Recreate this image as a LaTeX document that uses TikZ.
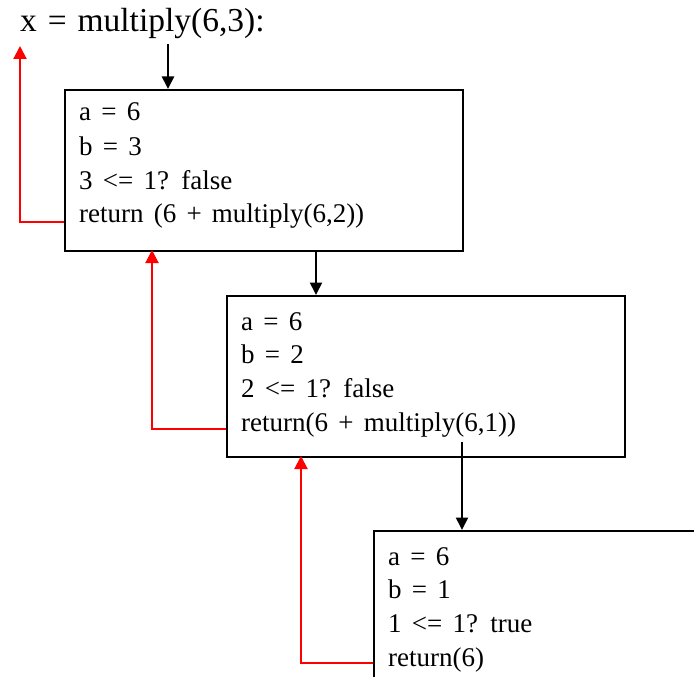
\documentclass[tikz,border=0pt]{standalone}
\usepackage{fontspec}
\setmainfont{Liberation Serif}
\usetikzlibrary{arrows.meta}
\newcommand\myboxfont{\fontsize{27}{32}\selectfont\spaceskip 10.2pt\relax}
\newcommand\mytitlefont{\fontsize{33.5}{38}\selectfont\spaceskip 10.9pt\relax}
\begin{document}
\begin{tikzpicture}[x=1pt,y=-1pt,
  box/.style={draw=black,line width=2pt,minimum width=398pt,minimum height=161pt,anchor=north west,inner sep=0pt},
  boxtxt/.style={anchor=base west,inner sep=0pt,font=\myboxfont},
  blk/.style={draw=black,line width=2pt,-{Triangle[length=12.5pt,width=12pt]}},
  ret/.style={draw=red,line width=2pt,-{Triangle[length=13pt,width=13pt]},shorten >=-2pt}]
\clip (0,0) rectangle (694,677);
\useasboundingbox (0,0) rectangle (694,677);
\node[anchor=base west,inner sep=0pt,font=\mytitlefont] (title) at (20,32) {x = multiply(6,3):};
% boxes
\node[box] (box1) at (64,89) {};
\node[box] (box2) at (226,295) {};
\node[box,minimum width=400pt,minimum height=200pt] (box3) at (373,530) {};
% box 1 text
\node[boxtxt] (l11) at (79,121) {a = 6};
\node[boxtxt] (l12) at (79,155) {b = 3};
\node[boxtxt] (l13) at (79,189) {3 <= 1? false};
\node[boxtxt] (l14) at (79,222) {return (6 + multiply(6,2))};
% box 2 text
\node[boxtxt] (l21) at (241,330) {a = 6};
\node[boxtxt] (l22) at (241,363) {b = 2};
\node[boxtxt] (l23) at (241,397) {2 <= 1? false};
\node[boxtxt] (l24) at (241,431) {return(6 + multiply(6,1))};
% box 3 text
\node[boxtxt] (l31) at (388,565) {a = 6};
\node[boxtxt] (l32) at (388,598) {b = 1};
\node[boxtxt] (l33) at (388,632) {1 <= 1? true};
\node[boxtxt] (l34) at (388,666) {return(6)};
% coordinates
\coordinate (c1) at (168,44);
\coordinate (c2) at (316,0);
\coordinate (c3) at (462,442);
\coordinate (t1) at (20,46);
\coordinate (t2) at (152,0);
\coordinate (t3) at (301,0);
% black call arrows
\draw[blk] (c1) -- (c1 |- box1.north);
\draw[blk] (c2 |- box1.south) -- (c2 |- box2.north);
\draw[blk] (c3) -- (c3 |- box3.north);
% red return arrows
\draw[ret,shorten >=0pt] (box1.west |- 0,222) -| (t1);
\draw[ret] (box2.west |- 0,429) -| (t2 |- box1.south);
\draw[ret] (box3.west |- 0,663) -| (t3 |- box2.south);
\end{tikzpicture}
\end{document}
